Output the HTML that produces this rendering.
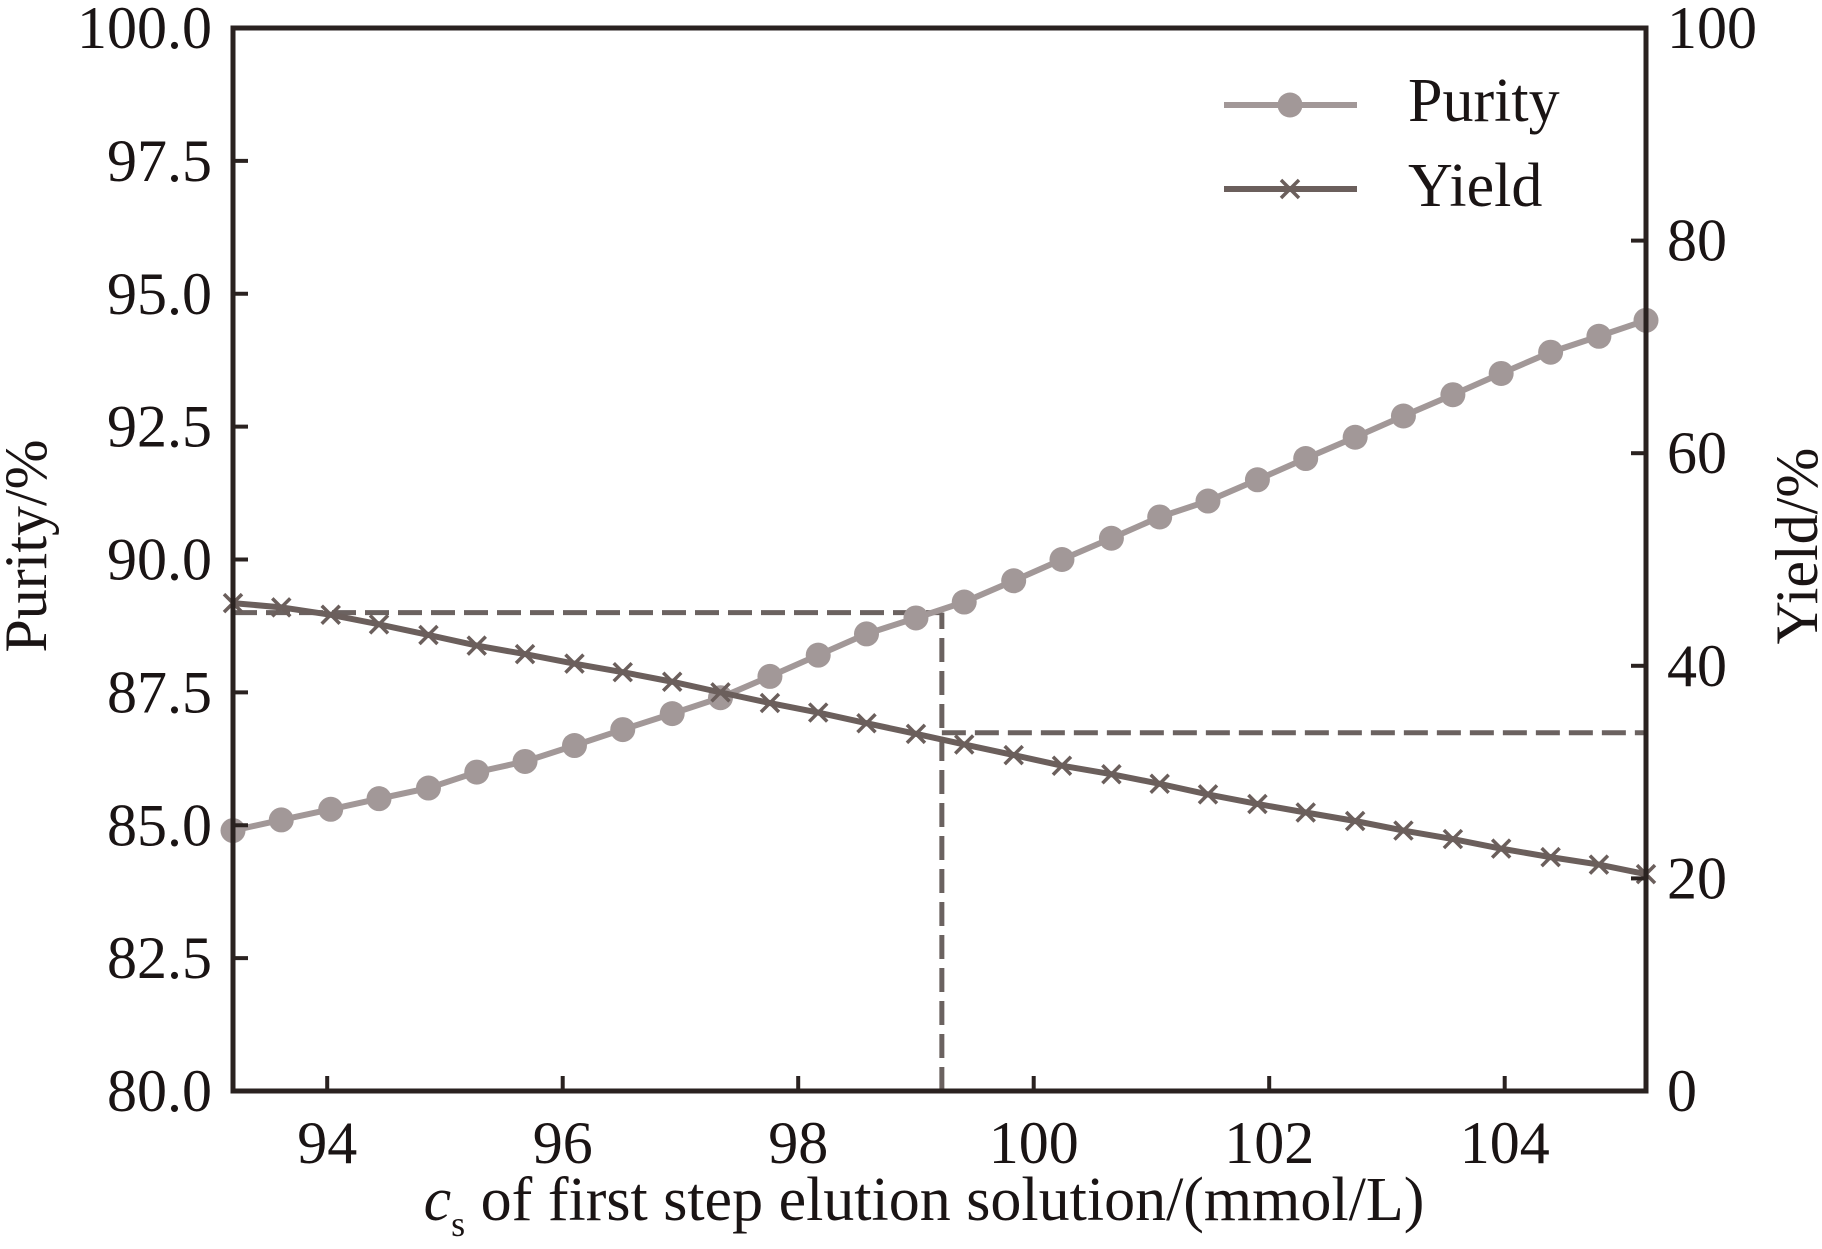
<!DOCTYPE html>
<html><head><meta charset="utf-8"><style>
html,body{margin:0;padding:0;background:#fff;}
svg text{font-family:"Liberation Serif",serif;fill:#1a1414;}
</style></head><body>
<svg id="chart" width="1822" height="1244" viewBox="0 0 1822 1244" xmlns="http://www.w3.org/2000/svg"></svg>
<script>
const xValues=[93.20,93.61,94.03,94.44,94.86,95.27,95.68,96.10,96.51,96.93,97.34,97.76,98.17,98.58,99.00,99.41,99.83,100.24,100.66,101.07,101.48,101.90,102.31,102.73,103.14,103.56,103.97,104.39,104.80,105.20];
const purityValues=[84.9,85.1,85.3,85.5,85.7,86.0,86.2,86.5,86.8,87.1,87.4,87.8,88.2,88.6,88.9,89.2,89.6,90.0,90.4,90.8,91.1,91.5,91.9,92.3,92.7,93.1,93.5,93.9,94.2,94.5];
const yieldValues=[45.9,45.5,44.8,43.9,42.9,41.9,41.1,40.2,39.4,38.5,37.5,36.5,35.6,34.6,33.6,32.6,31.6,30.6,29.8,28.9,27.9,27.0,26.2,25.4,24.5,23.7,22.8,22.0,21.3,20.4];
const xTicks=[94,96,98,100,102,104];
const leftTicks=["80.0","82.5","85.0","87.5","90.0","92.5","95.0","97.5","100.0"];
const rightTicks=["0","20","40","60","80","100"];
const optX=99.22, optPurity=89.0, optYield=33.7;

const L=233,R=1646,T=28,B=1091;
const xMin=93.2,xMax=105.2;
const sx=v=>L+(v-xMin)/(xMax-xMin)*(R-L);
const syP=v=>B-(v-80)/20*(B-T);
const syY=v=>B-v/100*(B-T);
const svg=document.getElementById('chart');
const NS='http://www.w3.org/2000/svg';
function mk(tag,attrs,parent){const e=document.createElementNS(NS,tag);for(const k in attrs)e.setAttribute(k,attrs[k]);(parent||svg).appendChild(e);return e;}

const dash={stroke:'#6b6260','stroke-width':5,'stroke-dasharray':'24 9',fill:'none'};
let d1=mk('line',Object.assign({x1:L,y1:syP(optPurity),x2:sx(optX),y2:syP(optPurity)},dash));


let d2=mk('line',Object.assign({x1:sx(optX),y1:B,x2:sx(optX),y2:syP(optPurity)},dash));


let d3=mk('line',Object.assign({x1:sx(optX),y1:syY(optYield),x2:R,y2:syY(optYield)},dash));



let pp=xValues.map((x,i)=>sx(x)+','+syP(purityValues[i])).join(' ');
let pl=mk('polyline',{points:pp,fill:'none',stroke:'#a29898','stroke-width':6});


xValues.forEach((x,i)=>{
  const c=mk('circle',{cx:sx(x),cy:syP(purityValues[i]),r:12.5,fill:'#a29898'});
  
  
});
let yp=xValues.map((x,i)=>sx(x)+','+syY(yieldValues[i])).join(' ');
let yl=mk('polyline',{points:yp,fill:'none',stroke:'#6b5f5c','stroke-width':6});


xValues.forEach((x,i)=>{
  const cx=sx(x),cy=syY(yieldValues[i]),s=9;
  const g=mk('path',{d:`M${cx-s},${cy-s}L${cx+s},${cy+s}M${cx-s},${cy+s}L${cx+s},${cy-s}`,stroke:'#6b5f5c','stroke-width':3.5});
  
  
});

const ax=mk('rect',{x:L,y:T,width:R-L,height:B-T,fill:'none',stroke:'#2a2220','stroke-width':5});


xTicks.forEach(v=>{
  const t=mk('line',{x1:sx(v),y1:B,x2:sx(v),y2:B-15,stroke:'#2a2220','stroke-width':4});
  
  
  const lb=mk('text',{x:sx(v),y:1163,'text-anchor':'middle','font-size':60});
  lb.textContent=v;
  
  
});
leftTicks.forEach(s=>{
  const v=parseFloat(s),y=syP(v);
  if(v>80&&v<100){const t=mk('line',{x1:L,y1:y,x2:L+15,y2:y,stroke:'#2a2220','stroke-width':4});
  
  }
  const lb=mk('text',{x:212,y:y+20,'text-anchor':'end','font-size':60});
  lb.textContent=s;
  
  
});
rightTicks.forEach(s=>{
  const v=parseFloat(s),y=syY(v);
  if(v>0&&v<100){const t=mk('line',{x1:R,y1:y,x2:R-15,y2:y,stroke:'#2a2220','stroke-width':4});
  
  }
  const lb=mk('text',{x:1667,y:y+20,'text-anchor':'start','font-size':60});
  lb.textContent=s;
  
  
});
</script>
<svg style="position:absolute;left:0;top:0" width="1822" height="1244" xmlns="http://www.w3.org/2000/svg">
<text x="924" y="1220" text-anchor="middle" font-size="62"><tspan font-style="italic">c</tspan><tspan font-size="36" dy="16">s</tspan><tspan dy="-16"> of first step elution solution/(mmol/L)</tspan></text>
<text transform="translate(46,546) rotate(-90)" text-anchor="middle" font-size="60">Purity/%</text>
<text transform="translate(1817,546) rotate(-90)" text-anchor="middle" font-size="60">Yield/%</text>
<g>
<line x1="1224" y1="105" x2="1357" y2="105" stroke="#a29898" stroke-width="6"/>
<circle cx="1290" cy="105" r="12.5" fill="#a29898"/>
<text x="1408" y="121" font-size="62">Purity</text>
<line x1="1224" y1="189" x2="1357" y2="189" stroke="#6b5f5c" stroke-width="6"/>
<path d="M1281,180L1299,198M1281,198L1299,180" stroke="#6b5f5c" stroke-width="3.5"/>
<text x="1408" y="206" font-size="62">Yield</text>
</g>
</svg>
</body></html>
